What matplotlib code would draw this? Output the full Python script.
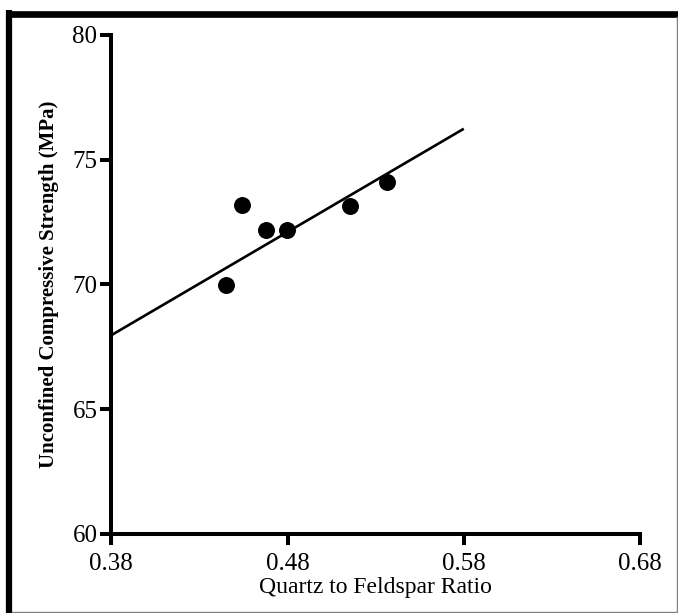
import matplotlib
matplotlib.use("Agg")
import matplotlib.pyplot as plt
from matplotlib.lines import Line2D

# Data
qf_ratio = [0.4448, 0.4544, 0.4675, 0.4794, 0.5152, 0.5363]
ucs_mpa = [69.96, 73.20, 72.16, 72.16, 73.16, 74.12]

fit_x = [0.38, 0.58]
fit_y = [67.96, 76.24]

x_ticks = [0.38, 0.48, 0.58, 0.68]
x_tick_labels = ["0.38", "0.48", "0.58", "0.68"]
y_ticks = [60, 65, 70, 75, 80]
y_tick_labels = ["60", "65", "70", "75", "80"]

plt.rcParams['font.family'] = ['Liberation Serif', 'DejaVu Serif']

fig = plt.figure(figsize=(6.78, 6.13), dpi=100)
ax = fig.add_axes([0.1642, 0.1294, 0.944 - 0.1642, (1 - 35 / 613) - 0.1294])

ax.plot(fit_x, fit_y, color='black', linewidth=1.9, solid_capstyle='butt', zorder=2)
ax.scatter(qf_ratio, ucs_mpa, s=125, color='black', zorder=3, clip_on=False)

ax.set_xlim(0.38, 0.68)
ax.set_ylim(60, 80)
ax.set_xticks(x_ticks)
ax.set_xticklabels(x_tick_labels)
ax.set_yticks(y_ticks)
ax.set_yticklabels(y_tick_labels)

for side in ['top', 'right']:
    ax.spines[side].set_visible(False)
for side in ['left', 'bottom']:
    ax.spines[side].set_linewidth(2.9)
    ax.spines[side].set_capstyle('projecting')

ax.tick_params(axis='both', direction='out', length=8, width=2.9, labelsize=18, colors='black')
ax.tick_params(axis='y', pad=2)
ax.tick_params(axis='x', pad=6)

ax.set_xlabel("Quartz to Feldspar Ratio", fontsize=17, labelpad=1)
ax.set_ylabel("Unconfined Compressive Strength (MPa)", fontsize=15, fontweight='bold', labelpad=10)

# Frame around the figure
W, H = 678, 613
fig.add_artist(Line2D([6 / W, 1.0], [1 - 13.5 / H, 1 - 13.5 / H], color='black', linewidth=4.8,
                      transform=fig.transFigure, solid_capstyle='butt'))
fig.add_artist(Line2D([9 / W, 9 / W], [1 - 10 / H, 0.0], color='black', linewidth=4.5,
                      transform=fig.transFigure, solid_capstyle='butt'))
fig.add_artist(Line2D([676.5 / W, 676.5 / W], [1 - 17 / H, 1 - 611.5 / H], color='#808080', linewidth=1.0,
                      transform=fig.transFigure))
fig.add_artist(Line2D([12 / W, 676.5 / W], [1 - 611.5 / H, 1 - 611.5 / H], color='#808080', linewidth=1.0,
                      transform=fig.transFigure))

fig.savefig("out.png", dpi=100)
